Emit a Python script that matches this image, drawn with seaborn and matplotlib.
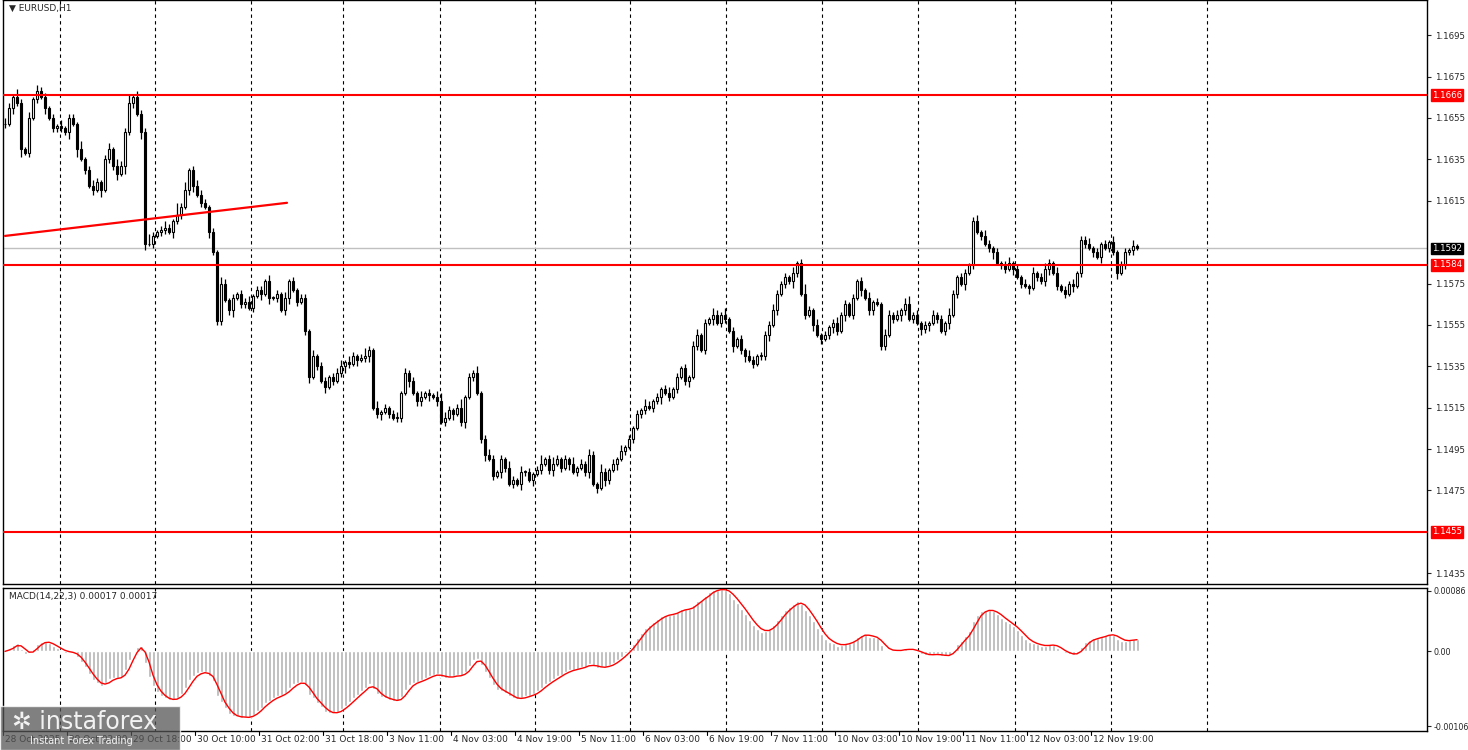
import numpy as np
import pandas as pd
import seaborn as sns
import matplotlib.pyplot as plt
from matplotlib.patches import Rectangle

# EURUSD H1 closes
closes = [
    1.1652, 1.1660, 1.1665, 1.1662, 1.1640, 1.1638, 1.1655, 1.1664, 1.1668, 1.1665, 1.1660,
    1.1655, 1.1650, 1.1651, 1.1650,
    1.1648, 1.1655, 1.1652, 1.1640, 1.1635,
    1.1630, 1.1622, 1.1620, 1.1624, 1.1620,
    1.1635, 1.1640, 1.1632, 1.1628, 1.1632,
    1.1648, 1.1662, 1.1665, 1.1657,
    1.1648, 1.1594,
    1.1594, 1.1598, 1.1600, 1.1601, 1.1602,
    1.1600, 1.1605, 1.1608, 1.1612, 1.1620,
    1.1630, 1.1622, 1.1618, 1.1614, 1.1612,
    1.1600, 1.1590, 1.1557, 1.1575, 1.1567,
    1.1562, 1.1568, 1.1570, 1.1565, 1.1566, 1.1563, 1.1569, 1.1572, 1.1570, 1.1576,
    1.1568, 1.1568, 1.1570, 1.1562, 1.1568, 1.1576, 1.1572, 1.1566, 1.1568,
    1.1552, 1.1530, 1.1540, 1.1535,
    1.1528, 1.1525, 1.1530, 1.1528, 1.1532,
    1.1535, 1.1537, 1.1536, 1.1540, 1.1538, 1.1539, 1.1540, 1.1543,
    1.1515, 1.1512, 1.1513, 1.1515, 1.1512, 1.1510, 1.1510, 1.1522,
    1.1532, 1.1528, 1.1522, 1.1518,
    1.1520, 1.1522, 1.1521, 1.1520, 1.1518,
    1.1508, 1.1510, 1.1514, 1.1512, 1.1515, 1.1508, 1.1520, 1.1530,
    1.1532, 1.1522, 1.1500, 1.1492, 1.1490,
    1.1482, 1.1484, 1.1490, 1.1486, 1.1478, 1.1480,
    1.1478, 1.1484, 1.1484, 1.1480, 1.1483,
    1.1485, 1.1488, 1.1490, 1.1485, 1.1488, 1.1490,
    1.1486, 1.1490, 1.1488, 1.1484, 1.1486, 1.1488, 1.1484, 1.1492,
    1.1478, 1.1476, 1.1484, 1.1480, 1.1485,
    1.1488, 1.1490, 1.1494, 1.1496, 1.1500,
    1.1505, 1.1512, 1.1514, 1.1516, 1.1515,
    1.1518, 1.1520, 1.1524, 1.1522, 1.1520,
    1.1524, 1.1530, 1.1534, 1.1528, 1.1530,
    1.1545, 1.1550, 1.1543, 1.1556, 1.1558,
    1.1560, 1.1556, 1.1560, 1.1558, 1.1552,
    1.1545, 1.1548, 1.1543, 1.1540, 1.1538, 1.1536, 1.1540,
    1.1540, 1.1550, 1.1555, 1.1562, 1.1570,
    1.1575, 1.1578, 1.1576, 1.1580, 1.1585,
    1.1570, 1.1560, 1.1562, 1.1555, 1.1550,
    1.1548, 1.1550, 1.1554, 1.1556, 1.1552, 1.1560, 1.1565, 1.1560, 1.1568, 1.1576,
    1.1572, 1.1568, 1.1562, 1.1566, 1.1565,
    1.1545, 1.1550, 1.1560, 1.1558, 1.1560,
    1.1562, 1.1565, 1.1558, 1.1560, 1.1556,
    1.1553, 1.1555, 1.1556, 1.1560, 1.1558,
    1.1552, 1.1556, 1.1560, 1.1570, 1.1578,
    1.1575, 1.1580, 1.1584, 1.1605,
    1.1600, 1.1598, 1.1594, 1.1592, 1.1590, 1.1585,
    1.1584, 1.1582, 1.1585, 1.1582, 1.1578,
    1.1575, 1.1574, 1.1573, 1.1580, 1.1578,
    1.1576, 1.1582, 1.1585, 1.1580, 1.1574,
    1.1572, 1.1570, 1.1575, 1.1574, 1.1580,
    1.1596, 1.1594, 1.1592, 1.1590, 1.1588,
    1.1594, 1.1592, 1.1595, 1.1590, 1.1580,
    1.1584, 1.1590, 1.1591, 1.1593, 1.1592,
]
# wick lengths in pips (upper / lower), one digit per bar
upper_wicks = ("3214213132" "2121312214" "1232123132" "2413225212" "3216241232" "2121321212"
               "2312213121" "3121221312" "2122313212" "4213121231" "2121312134" "3212412131"
               "2321213213" "1212412321" "2131213214" "2121312121" "3212123121" "2123121321"
               "3121213212" "2232121312" "5213121231" "2121213121" "3212134121" "2121213212"
               "2123132121" "2312121312" "3213121212" "2312121312" "2131")
lower_wicks = ("2131412121" "3122213141" "2121312231" "4121331212" "2131212312" "1312212312"
               "2121313121" "2312123121" "3121232131" "2312312122" "1312213121" "2131231212"
               "3121321213" "2131212312" "1312123121" "3213121212" "2121312121" "2312121312"
               "2131231212" "2312121321" "2131212321" "3121312212" "2121321213" "2312123121"
               "3121212312" "2131213121" "2312121312" "2121312131" "2121")

levels = [1.1666, 1.1584, 1.1455]
last_price = 1.1592
trend_bars = [0, 70.5]
trend_prices = [1.1598, 1.1614]
price_ticks = [1.1435, 1.1475, 1.1495, 1.1515, 1.1535, 1.1555, 1.1575,
               1.1615, 1.1635, 1.1655, 1.1675, 1.1695]
grid_px = [60, 155, 251, 343, 440, 535, 630, 726, 822, 918, 1015, 1111, 1207]
time_labels = ["28 Oct 2025", "29 Oct 02:00", "29 Oct 18:00", "30 Oct 10:00", "31 Oct 02:00",
               "31 Oct 18:00", "3 Nov 11:00", "4 Nov 03:00", "4 Nov 19:00", "5 Nov 11:00",
               "6 Nov 03:00", "6 Nov 19:00", "7 Nov 11:00", "10 Nov 03:00", "10 Nov 19:00",
               "11 Nov 11:00", "12 Nov 03:00", "12 Nov 19:00"]

sns.set_style("white")
plt.rcParams['font.family'] = ['DejaVu Sans']

df = pd.DataFrame({"close": closes})
df["bar"] = np.arange(len(df))
df["open"] = df["close"].shift(1).fillna(df["close"].iloc[0])
up = np.array([int(c) for c in upper_wicks[:len(df)]]) * 0.0001
dn = np.array([int(c) for c in lower_wicks[:len(df)]]) * 0.0001
df["high"] = df[["open", "close"]].max(axis=1) + up
df["low"] = df[["open", "close"]].min(axis=1) - dn

# MACD(14,22,3)
ema_fast = df["close"].ewm(span=14, adjust=False).mean()
ema_slow = df["close"].ewm(span=22, adjust=False).mean()
df["macd"] = ema_fast - ema_slow
df["signal"] = df["macd"].rolling(3, min_periods=1).mean()

W, H = 1468, 750
fig = plt.figure(figsize=(W / 100, H / 100), dpi=100)
ax = fig.add_axes([3 / W, 1 - 584 / H, 1424 / W, 584 / H])
ax2 = fig.add_axes([3 / W, 1 - 731 / H, 1424 / W, 143 / H])

xmax = (1427 - 5) / 4
for a in (ax, ax2):
    a.set_xlim(-0.5, xmax)
    for px in grid_px:
        a.axvline((px - 5) / 4, color="black", ls=(0, (3, 3)), lw=0.8, zorder=0)
    a.set_xticks([])
    for s in a.spines.values():
        s.set_color("black")
        s.set_linewidth(1)

# candles
for r in df.itertuples():
    ax.vlines(r.bar, r.low, r.high, color="black", lw=0.9, zorder=3)
    bull = r.close >= r.open
    lo, hi = min(r.open, r.close), max(r.open, r.close)
    ax.add_patch(Rectangle((r.bar - 0.3, lo), 0.6, max(hi - lo, 0.00003),
                           facecolor="white" if bull else "black",
                           edgecolor="black", lw=0.8, zorder=4))

ax.set_ylim(1.14298, 1.1712)
ax.yaxis.tick_right()
ax.set_yticks(price_ticks)
ax.set_yticklabels([f"{p:.4f}" for p in price_ticks], fontsize=6.2)
ax.tick_params(axis="y", length=3, pad=3)

for lv in levels:
    ax.axhline(lv, color="red", lw=1.5, zorder=5)
    ax.text(xmax + 1.2, lv, f"{lv:.4f}", fontsize=6.2, color="white", va="center",
            ha="left", bbox=dict(boxstyle="square,pad=0.15", fc="red", ec="red"),
            clip_on=False, zorder=6)
ax.axhline(last_price, color="#c0c0c0", lw=1, zorder=1)
ax.text(xmax + 1.2, last_price, f"{last_price:.4f}", fontsize=6.2, color="white",
        va="center", ha="left", bbox=dict(boxstyle="square,pad=0.15", fc="black", ec="black"),
        clip_on=False, zorder=6)
sns.lineplot(x=trend_bars, y=trend_prices, ax=ax, color="red", lw=1.6, zorder=5)

ax.text(0.004, 0.993, "▼ EURUSD,H1", transform=ax.transAxes, fontsize=6.5, va="top")

# MACD panel
ax2.bar(df["bar"], df["macd"], width=0.75, color="#b4b4b4", zorder=2)
sns.lineplot(x=df["bar"], y=df["signal"], ax=ax2, color="red", lw=1, zorder=3)
ax2.set_ylim(-0.00113, 0.00090)
ax2.yaxis.tick_right()
ax2.set_yticks([0.00086, 0.0, -0.00106])
ax2.set_yticklabels(["0.00086", "0.00", "-0.00106"], fontsize=5.8)
ax2.tick_params(axis="y", length=3, pad=2)
ax2.set_ylabel("")
ax2.text(0.004, 0.97, "MACD(14,22,3) 0.00017 0.00017", transform=ax2.transAxes,
         fontsize=6.5, va="top")

# time axis labels
for k, lab in enumerate(time_labels):
    xb = -0.5 + 16 * k
    xf = (5 + 4 * xb) / W
    fig.text(xf + 2 / W, 1 - 739 / H, lab, fontsize=6.5, va="center", ha="left")
    fig.add_artist(plt.Line2D([xf, xf], [1 - 731 / H, 1 - 735 / H], color="black", lw=0.8))

# watermark
fig.add_artist(Rectangle((0, 0), 180 / W, 44 / H, transform=fig.transFigure,
                         facecolor="#555555", alpha=0.75, zorder=10))
fig.text(12 / W, 1 - 722 / H, "✲ instaforex", fontsize=17, color="white",
         alpha=0.9, va="center", zorder=11)
fig.text(30 / W, 1 - 741 / H, "Instant Forex Trading", fontsize=7, color="white",
         alpha=0.9, va="center", zorder=11)

fig.savefig("out.png", dpi=100)
